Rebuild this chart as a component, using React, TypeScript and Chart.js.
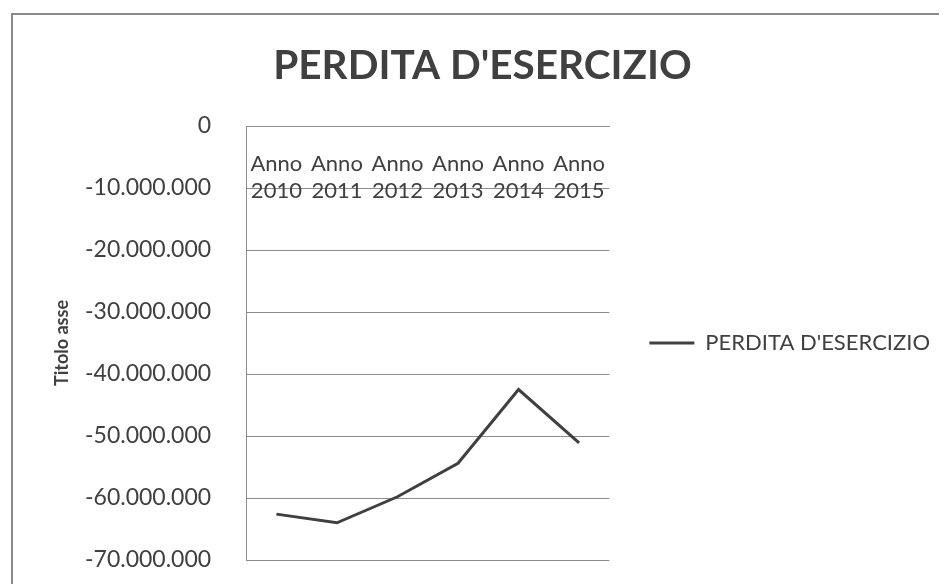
import React, { useEffect, useRef } from "react";
import { Chart, registerables } from "chart.js";

Chart.register(...registerables);

const chartTitle = "PERDITA D'ESERCIZIO";
const seriesName = "PERDITA D'ESERCIZIO";
const axisTitle = "Titolo asse";
const categories = ["Anno 2010", "Anno 2011", "Anno 2012", "Anno 2013", "Anno 2014", "Anno 2015"];
const perdita = [-62600000, -64000000, -59800000, -54400000, -42500000, -51100000];
const yMin = -70000000;
const yMax = 0;
const yStep = 10000000;

function formatIt(v: number): string {
  const s = String(Math.abs(Math.round(v))).replace(/\B(?=(\d{3})+(?!\d))/g, ".");
  return v < 0 ? "-" + s : s;
}

const FONT = "Lato";
const TEXT = "#404040";
const GRID = "#8c8c8c";

export default function App() {
  const ref = useRef<HTMLCanvasElement | null>(null);
  useEffect(() => {
    if (!ref.current) return;
    const chart = new Chart(ref.current, {
      type: "line",
      data: {
        labels: categories.map((c) => c.split(" ")),
        datasets: [
          {
            label: seriesName,
            data: perdita,
            borderColor: "#404040",
            backgroundColor: "#404040",
            borderWidth: 3,
            pointRadius: 0,
            tension: 0,
          },
        ],
      },
      options: {
        animation: false,
        responsive: false,
        maintainAspectRatio: false,
        layout: { padding: { top: 0, left: 17, right: 7, bottom: 24 } },
        plugins: {
          title: {
            display: true,
            text: chartTitle,
            color: TEXT,
            font: { family: FONT, size: 40.5, weight: "bold" },
            padding: { top: 34, bottom: 35.4 },
          },
          legend: {
            position: "right",
            fullSize: false,
            maxWidth: 331,
            labels: {
              boxWidth: 45,
              boxHeight: 3,
              padding: 40,
              color: TEXT,
              font: { family: FONT, size: 22 },
              generateLabels: (ch: any) =>
                ch.data.datasets.map((ds: any, i: number) => ({
                  text: ds.label,
                  fillStyle: "#404040",
                  strokeStyle: "rgba(0,0,0,0)",
                  lineWidth: 0,
                  fontColor: TEXT,
                  hidden: false,
                  datasetIndex: i,
                })),
            },
          },
          tooltip: { enabled: false },
        },
        scales: {
          x: {
            type: "category",
            position: "top",
            offset: true,
            grid: { display: false, drawTicks: false },
            border: { display: true, color: GRID, width: 1 },
            // Excel draws these labels just under the zero axis line, inside the plot area
            afterFit: (scale: any) => {
              scale.height = 0;
            },
            ticks: {
              mirror: true,
              color: TEXT,
              font: { family: FONT, size: 22, lineHeight: 27 / 22 },
              padding: -3,
              maxRotation: 0,
              minRotation: 0,
              autoSkip: false,
            },
          },
          y: {
            min: yMin,
            max: yMax,
            grid: {
              color: GRID,
              lineWidth: 1,
              drawTicks: true,
              tickLength: 35,
              tickColor: "rgba(0,0,0,0)",
            },
            border: { display: true, color: GRID, width: 1 },
            title: {
              display: true,
              text: axisTitle,
              color: TEXT,
              font: { family: FONT, size: 18, weight: "bold" },
              padding: { top: 26, bottom: 12.4 },
            },
            ticks: {
              stepSize: yStep,
              color: TEXT,
              font: { family: FONT, size: 23 },
              padding: 0,
              callback: (v: any) => formatIt(Number(v)),
            },
          },
        },
      },
    });
    return () => chart.destroy();
  }, []);

  return (
    <div style={{ position: "relative", width: 939, height: 576, overflow: "hidden", background: "#fff" }}>
      <div
        style={{
          position: "absolute",
          left: 3,
          top: 5,
          width: 1000,
          height: 700,
          borderTop: "2px solid #8a8a8a",
          borderLeft: "2px solid #8a8a8a",
          boxSizing: "border-box",
        }}
      />
      <canvas ref={ref} width={939} height={576} style={{ position: "absolute", left: 0, top: 0, display: "block" }} />
    </div>
  );
}
